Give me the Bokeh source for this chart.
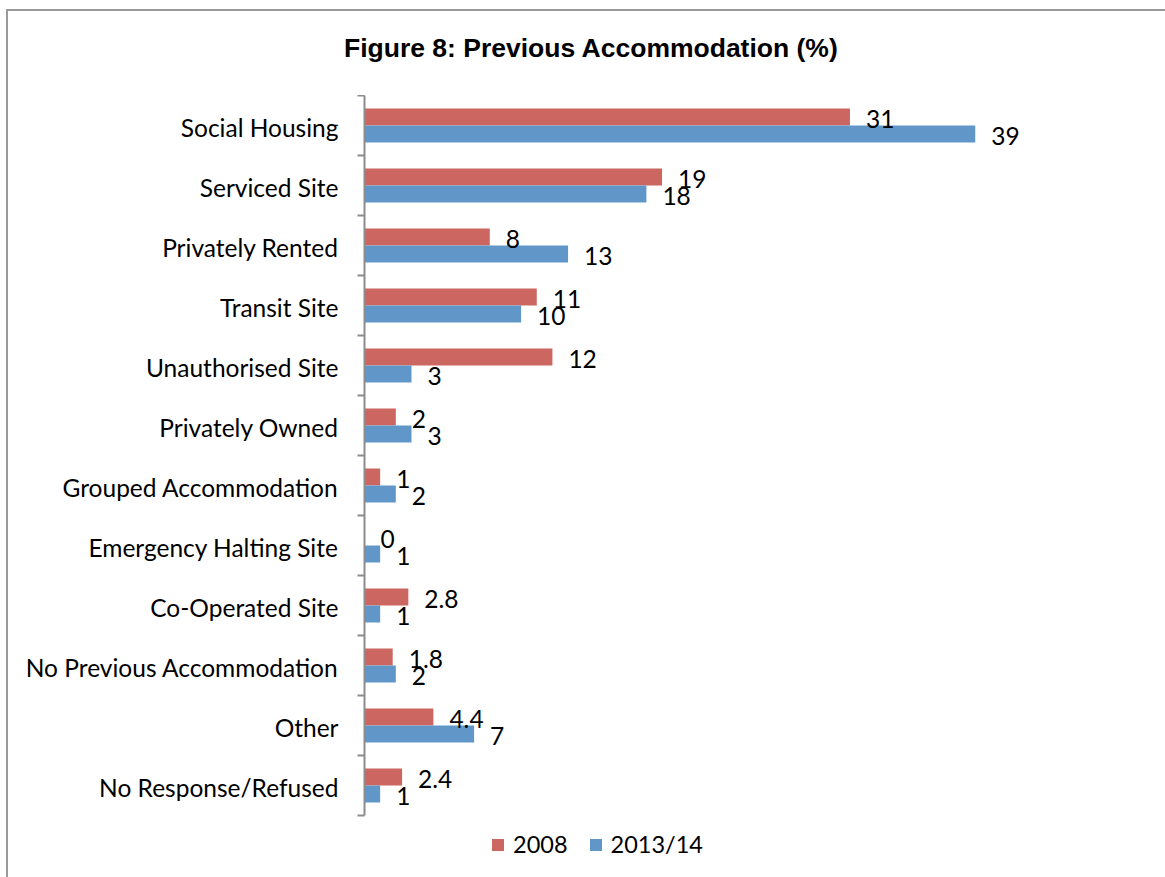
from bokeh.plotting import figure
from bokeh.layouts import column
from bokeh.models import (ColumnDataSource, Range1d, LinearAxis, FixedTicker, LabelSet,
                          Legend, LegendItem, Div)
from bokeh.core.properties import value
from bokeh.embed import file_html
from bokeh.resources import INLINE

# ---- data ----
categories = ["Social Housing", "Serviced Site", "Privately Rented", "Transit Site",
              "Unauthorised Site", "Privately Owned", "Grouped Accommodation",
              "Emergency Halting Site", "Co-Operated Site", "No Previous Accommodation",
              "Other", "No Response/Refused"]
values_2008 = [31, 19, 8, 11, 12, 2, 1, 0, 2.8, 1.8, 4.4, 2.4]
values_2013 = [39, 18, 13, 10, 3, 3, 2, 1, 1, 2, 7, 1]
series_names = ["2008", "2013/14"]
title_text = "Figure 8: Previous Accommodation (%)"

# ---- styles / layout ----
RED = "#CC6660"
BLUE = "#6096C8"
FONT = "Lato"
FS = "24.5px"
LEG_FS = "23.5px"
OFF = 0.1417      # offset of each bar from its category centre (category units)
BH = 0.283        # bar thickness (category units)
LABEL_DY = 0.035  # nudge category labels slightly down
W = 1157
TITLE_H = 84
ROW_PX = 60
BOTTOM_PX = 62    # space below the category block (legend area)

n = len(categories)
centers = [n - 0.5 - i for i in range(n)]      # first category at the top
src = ColumnDataSource(dict(
    cat=categories,
    y1=[c + OFF for c in centers],
    y2=[c - OFF for c in centers],
    v1=values_2008,
    v2=values_2013,
    t1=[f"{v:g}" for v in values_2008],
    t2=[f"{v:g}" for v in values_2013],
))

title = Div(text=f'<div style="font-family:\'Liberation Sans\';font-weight:bold;'
                 f'font-size:26.5px;line-height:32px;color:#000;white-space:nowrap;'
                 f'padding-top:21px;padding-left:336px;">{title_text}</div>',
            width=W, height=TITLE_H, margin=0)

p = figure(width=W, height=n * ROW_PX + BOTTOM_PX,
           y_range=Range1d(-BOTTOM_PX / ROW_PX, n),
           x_range=Range1d(0, 50),
           output_backend="svg", toolbar_location=None,
           x_axis_location=None, y_axis_location=None,
           min_border_left=356, min_border_right=18,
           min_border_top=0, min_border_bottom=0, margin=0)
p.outline_line_color = None
for g in p.grid:
    g.visible = False

label_pos = [c - LABEL_DY for c in centers]
yaxis = LinearAxis(ticker=FixedTicker(ticks=label_pos, minor_ticks=list(range(n + 1))),
                   major_label_overrides={c: cat for c, cat in zip(label_pos, categories)},
                   bounds=(0, n),
                   axis_line_color="#8c8c8c", axis_line_width=2,
                   major_tick_line_color=None, major_tick_in=0, major_tick_out=0,
                   minor_tick_line_color="#8c8c8c", minor_tick_line_width=2,
                   minor_tick_in=0, minor_tick_out=7,
                   major_label_text_font=FONT, major_label_text_font_size=FS,
                   major_label_text_color="#000000", major_label_standoff=19)
p.add_layout(yaxis, "left")

r1 = p.hbar(y="y1", left=0, right="v1", height=BH, source=src,
            fill_color=RED, line_color=None)
r2 = p.hbar(y="y2", left=0, right="v2", height=BH, source=src,
            fill_color=BLUE, line_color=None)

for xcol, ycol, tcol in (("v1", "y1", "t1"), ("v2", "y2", "t2")):
    p.add_layout(LabelSet(x=xcol, y=ycol, text=tcol, source=src,
                          x_offset=16, y_offset=-2, text_baseline="middle", text_align="left",
                          text_font=value(FONT), text_font_size=value(FS),
                          text_color="#000000"))

legend = Legend(items=[LegendItem(label=series_names[0], renderers=[r1]),
                       LegendItem(label=series_names[1], renderers=[r2])],
                orientation="horizontal", location=(126, 19),
                glyph_width=15, glyph_height=15, label_standoff=8, spacing=20,
                padding=0, margin=0, border_line_color=None, background_fill_alpha=0,
                label_text_font=FONT, label_text_font_size=LEG_FS, label_text_color="#000000")
p.add_layout(legend)

layout = column(title, p, spacing=0,
                styles={"border-left": "2px solid #9a9a9a", "border-top": "2px solid #9a9a9a",
                        "margin-left": "6px", "margin-top": "9px", "background": "white"})

open("out.html", "w").write(file_html(layout, INLINE))
